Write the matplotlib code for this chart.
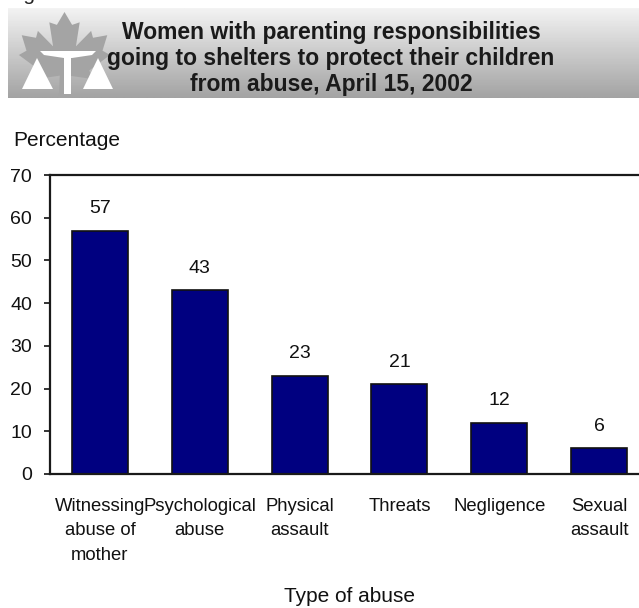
import numpy as np
import matplotlib.pyplot as plt
from matplotlib.patches import Polygon, Rectangle

plt.rcParams['font.family'] = ['Liberation Sans', 'DejaVu Sans']

categories = ['Witnessing\nabuse of\nmother', 'Psychological\nabuse', 'Physical\nassault',
              'Threats', 'Negligence', 'Sexual\nassault']
percent = [57, 43, 23, 21, 12, 6]
yticks = [0, 10, 20, 30, 40, 50, 60, 70]
title_lines = ['Women with parenting responsibilities',
               'going to shelters to protect their children',
               'from abuse, April 15, 2002']

W, H = 639, 608
fig = plt.figure(figsize=(W / 100, H / 100), dpi=100)

# header band, drawn in pixel coordinates
hdr = fig.add_axes([0, 0, 1, 1])
hdr.set_xlim(0, W)
hdr.set_ylim(H, 0)
hdr.axis('off')

grad = np.linspace(0.95, 0.64, 64)[:, None] * np.ones((1, 2))
hdr.imshow(grad, cmap='gray', vmin=0, vmax=1, extent=[8, W, 98, 8], aspect='auto',
           interpolation='bilinear', zorder=1)

# maple leaf outline, normalised to a box
leaf = np.array([
    (0.50, 0.00), (0.58, 0.15), (0.66, 0.12), (0.62, 0.40), (0.78, 0.22), (0.80, 0.30),
    (0.95, 0.27), (0.90, 0.45), (0.98, 0.50), (0.76, 0.68), (0.80, 0.78), (0.55, 0.74),
    (0.56, 1.00), (0.44, 1.00), (0.45, 0.74), (0.20, 0.78), (0.24, 0.68), (0.02, 0.50),
    (0.10, 0.45), (0.05, 0.27), (0.20, 0.30), (0.22, 0.22), (0.38, 0.40), (0.34, 0.12),
    (0.42, 0.15)])
lx0, ly0, lw, lh = 17, 12, 95, 86
hdr.add_patch(Polygon(np.c_[lx0 + leaf[:, 0] * lw, ly0 + leaf[:, 1] * lh],
                      closed=True, fc='#a4a4a4', ec='none', zorder=2))
# scales of justice
hdr.add_patch(Polygon([(40, 51), (96, 51), (92, 55), (72, 58), (64, 58), (44, 55)],
                      closed=True, fc='white', ec='none', zorder=3))
hdr.add_patch(Rectangle((64, 56), 7, 38, fc='white', ec='none', zorder=3))
hdr.add_patch(Polygon([(37, 58), (22, 89), (53, 89)], closed=True, fc='white', ec='none', zorder=3))
hdr.add_patch(Polygon([(98, 58), (83, 89), (113, 89)], closed=True, fc='white', ec='none', zorder=3))

for yy, line in zip([32, 58, 85], title_lines):
    hdr.text(331, yy, line, ha='center', va='center', fontsize=16.5,
             fontweight='bold', color='#1a1a1a', zorder=4)

hdr.text(6, -0.5, 'Figure', ha='left', va='baseline', fontsize=15, color='#222222')
hdr.text(13, 141, 'Percentage', ha='left', va='center', fontsize=15, color='#111111')

# bar chart
ax = fig.add_axes([50 / W, 134 / H, 599 / W, 299 / H])
x = np.arange(len(categories))
ax.bar(x, percent, width=0.56, color='#000080', edgecolor='#111111', linewidth=1.2, zorder=2)
for xi, v in zip(x, percent):
    ax.annotate(str(v), (xi, v), xytext=(0, 16), textcoords='offset points',
                ha='center', va='center', fontsize=14, color='#111111')

ax.set_xlim(-0.5, len(categories) - 0.5)
ax.set_ylim(0, 70)
ax.set_yticks(yticks)
ax.tick_params(axis='y', labelsize=14, length=4, width=1.2, pad=9, colors='#111111')
ax.set_xticks(x)
ax.set_xticklabels(categories, fontsize=13.3, linespacing=1.6)
ax.tick_params(axis='x', length=0, pad=17, colors='#111111')
for s in ['left', 'bottom', 'top']:
    ax.spines[s].set_linewidth(1.6)
    ax.spines[s].set_color('#1a1a1a')
ax.spines['right'].set_visible(False)

ax.set_xlabel('Type of abuse', fontsize=15, color='#111111', va='center')
ax.xaxis.set_label_coords(0.5, (H - 597 - 134) / 299)

fig.savefig('out.png', dpi=100)
